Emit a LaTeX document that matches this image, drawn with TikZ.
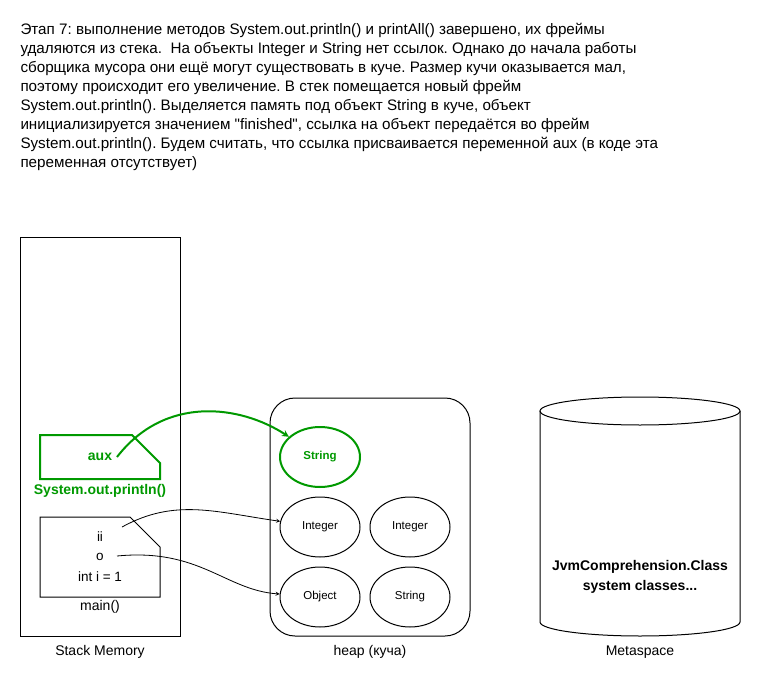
\documentclass[tikz,border=0pt]{standalone}
\usepackage{fontspec}
\setmainfont{Liberation Sans}
\usepackage{tikz}
\usetikzlibrary{arrows,shapes}
\definecolor{jvmgreen}{HTML}{009900}
\frenchspacing
\tikzstyle{ref}=[->, >=stealth, line width=0.8pt]
\tikzstyle{refG}=[->, >=stealth, line width=2pt, color=jvmgreen]
\tikzstyle{obj}=[ellipse, draw, minimum width=80pt, minimum height=60pt, inner sep=0pt, line width=1pt, font=\fontsize{11.5}{13}\selectfont]
\tikzstyle{lbl}=[inner sep=0pt, font=\fontsize{14}{16}\selectfont]
\tikzstyle{var}=[inner sep=0pt, font=\fontsize{13.5}{16}\selectfont]
\tikzstyle{greenT}=[inner sep=0pt, text=jvmgreen, font=\bfseries\fontsize{14}{16}\selectfont]

\begin{document}
\begin{tikzpicture}[x=1pt, y=-1pt, line width=1pt]
        \useasboundingbox (0,0) rectangle (761,688);
        \node(desc) [anchor=north west, inner sep=0pt, align=left, font=\fontsize{15.2}{19}\selectfont] at (20,23){Этап 7: выполнение методов System.out.println() и printAll() завершено, их фреймы\\
удаляются из стека.\ \ На объекты Integer и String нет ссылок. Однако до начала работы\\
сборщика мусора они ещё могут существовать в куче. Размер кучи оказывается мал,\\
поэтому происходит его увеличение. В стек помещается новый фрейм\\
System.out.println(). Выделяется память под объект String в куче, объект\\
инициализируется значением \textquotedbl finished\textquotedbl, ссылка на объект передаётся во фрейм\\
System.out.println(). Будем считать, что ссылка присваивается переменной aux (в коде эта\\
переменная отсутствует)};
        % stack
        \draw (20,237) rectangle (180,636);
        \node(stack) [lbl] at (100,652){Stack Memory};
        \draw[line width=2pt, jvmgreen] (40,435) -- (132,435) -- (160,463) -- (160,479) -- (40,479) -- cycle;
        \node(aux) [greenT] at (100,457){aux};
        \node(printlnF) [greenT] at (100,491){System.out.println()};
        \draw (40,517) -- (130,517) -- (160,547) -- (160,597) -- (40,597) -- cycle;
        \node(ii) [var] at (100,537){ii};
        \node(o) [var] at (100,557){o};
        \node(inti) [var] at (100,577){int i = 1};
        \node(mainF) [lbl] at (100,607){main()};
        % heap
        \draw[rounded corners=25pt] (270,398) rectangle (470,636);
        \node(heap) [lbl] at (370,652){heap (куча)};
        \node(str1) [obj, line width=2pt, draw=jvmgreen, text=jvmgreen, font=\bfseries\fontsize{11.5}{13}\selectfont] at (320,457){String};
        \node(int1) [obj] at (320,527){Integer};
        \node(int2) [obj] at (410,527){Integer};
        \node(objN) [obj] at (320,597){Object};
        \node(str2) [obj] at (410,597){String};
        % metaspace
        \draw (540,411) -- (540,622) arc[start angle=180, end angle=0, x radius=100, y radius=14] -- (740,411);
        \draw (640,411) ellipse [x radius=100, y radius=14];
        \node(cls) [inner sep=0pt, align=center, font=\bfseries\fontsize{14}{20}\selectfont] at (640,577){JvmComprehension.Class\\system classes...};
        \node(meta) [lbl] at (640,652){Metaspace};
        % references
        \coordinate(auxR) at (117,457);
        \coordinate(iiR) at (122,527);
        \coordinate(oR) at (117,556);
        \draw[refG] (auxR) .. controls (165,395) and (240,405) .. (str1);
        \draw[ref] (iiR) .. controls (175,498) and (215,512) .. (int1);
        \draw[ref] (oR) .. controls (200,548) and (225,590) .. (objN);
\end{tikzpicture}
\end{document}
